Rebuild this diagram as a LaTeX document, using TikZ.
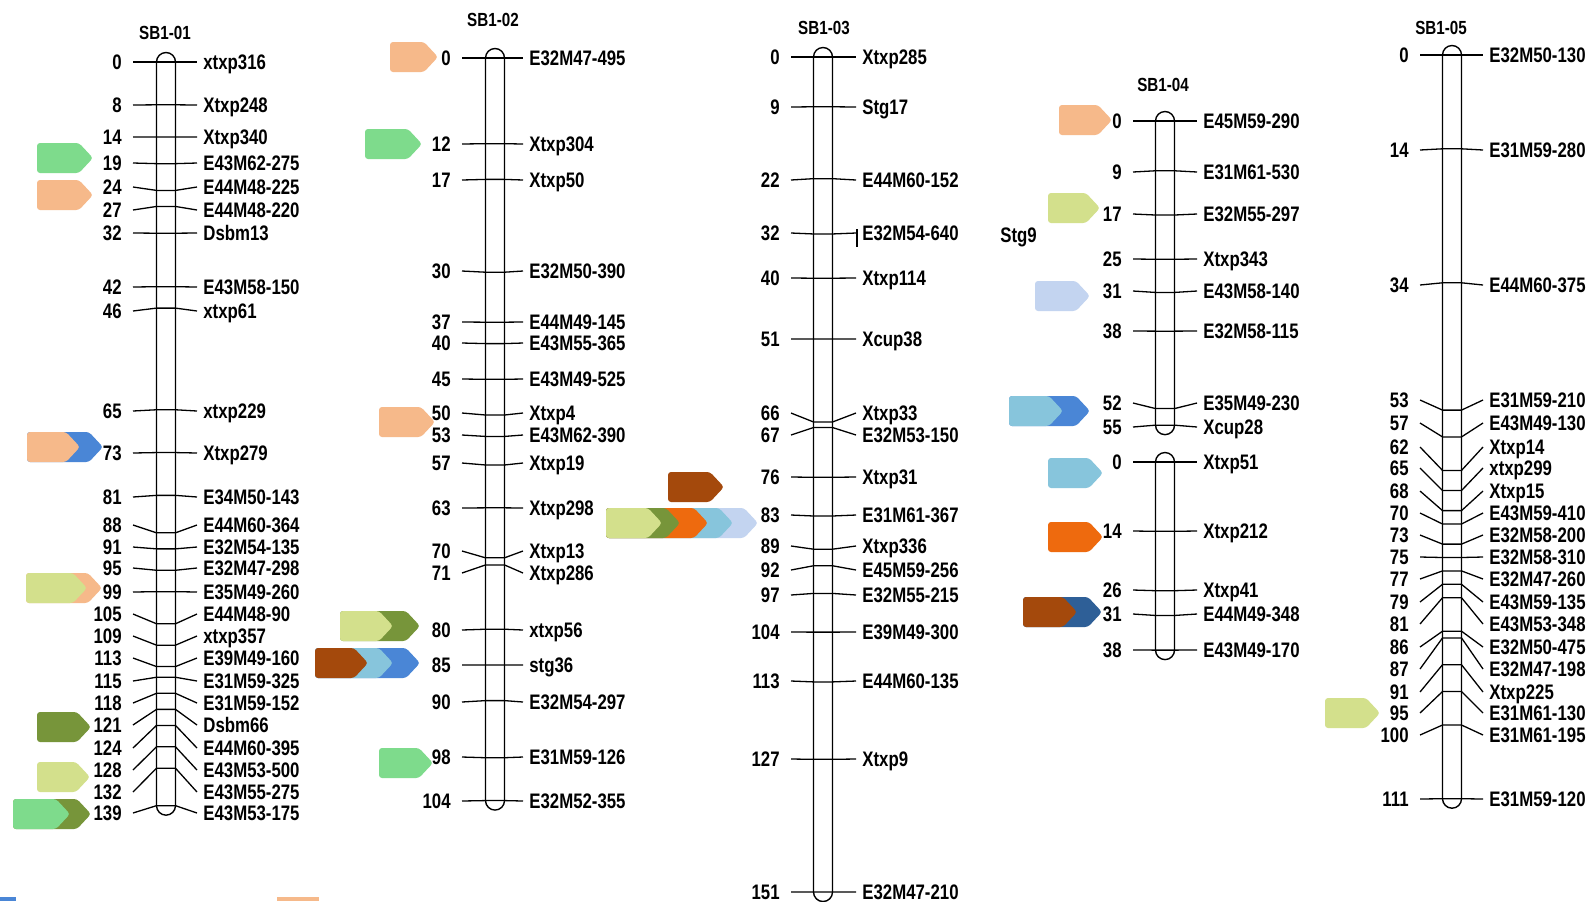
\documentclass[tikz,border=0pt]{standalone}
\usepackage{fontspec}
\setmainfont{Liberation Sans}[FakeStretch=0.8]
\definecolor{cgreen}{RGB}{126,219,140}
\definecolor{cpeach}{RGB}{246,185,138}
\definecolor{cblue}{RGB}{74,134,214}
\definecolor{cyg}{RGB}{211,224,140}
\definecolor{colive}{RGB}{119,149,58}
\definecolor{cbrown}{RGB}{164,73,12}
\definecolor{clblue}{RGB}{135,197,220}
\definecolor{clav}{RGB}{195,212,240}
\definecolor{corange}{RGB}{238,106,14}
\definecolor{cdblue}{RGB}{46,95,151}
\tikzset{
  bar/.style={draw=black,line width=0.7pt,rounded corners=4.75pt},
  tick/.style={draw=black,line width=0.65pt},
  num/.style={inner sep=0pt,font=\fontsize{10.5}{12}\selectfont\bfseries,text height=7.5pt,text depth=0pt,anchor=east},
  mk/.style={inner sep=0pt,font=\fontsize{10.5}{12}\selectfont\bfseries,text height=7.5pt,text depth=0pt,anchor=west},
  ttl/.style={inner sep=0pt,font=\fontsize{9.5}{11}\selectfont\bfseries,text height=6.8pt,text depth=0pt},
}
% #1 id, #2 cx, #3 y0, #4 scale, #5 cM end, #6 tick left x, #7 tick right x, #8 list
\newcommand\chromo[8]{%
  \draw[bar] ({#2-9.5},{#3-9.5}) rectangle ({#2+9.5},{#3+#5*#4+9.5});
  \foreach \c/\ly/\nm [count=\i] in {#8}{%
    \draw[tick] (#6,\ly) -- ({#2-9.5},{#3+\c*#4}) -- ({#2+9.5},{#3+\c*#4}) -- (#7,\ly);
    \node[num] (#1n\i) at ({#6-11},\ly) {\c};
    \node[mk] (#1m\i) at ({#7+6},\ly) {\nm};
  }%
}
\newcommand\tagar[4]{%
  \fill[#1,rounded corners=1.5pt] (#2,{#4-15}) -- ({#3-14},{#4-15}) -- (#3,#4) -- ({#3-14},{#4+15}) -- (#2,{#4+15}) -- cycle;}
\begin{document}
\begin{tikzpicture}[x=0.5pt,y=-0.5pt]
\useasboundingbox (0,0) rectangle (1593,901);
\fill[white] (0,0) rectangle (1593,901);
% ---------- tags ----------
% SB1-01
\tagar{cgreen}{37}{93}{158}
\tagar{cpeach}{37}{93}{195}
\tagar{cblue}{27}{103}{447}
\tagar{cpeach}{27}{80}{447}
\tagar{cpeach}{26}{102}{588}
\tagar{cyg}{26}{87}{588}
\tagar{colive}{37}{91}{727}
\tagar{cyg}{37}{90}{777}
\tagar{colive}{13}{91}{814}
\tagar{cgreen}{13}{70}{814}
% SB1-02
\tagar{cpeach}{390}{438}{57}
\tagar{cgreen}{365}{422}{144}
\tagar{cpeach}{379}{435}{422}
\tagar{colive}{340}{420}{626}
\tagar{cyg}{340}{393}{626}
\tagar{cblue}{315}{420}{663}
\tagar{clblue}{315}{393}{663}
\tagar{cbrown}{315}{368}{663}
\tagar{cgreen}{379}{433}{763}
% SB1-03
\tagar{cbrown}{668}{724}{487}
\tagar{clav}{606}{758}{523}
\tagar{clblue}{606}{733}{523}
\tagar{corange}{606}{708}{523}
\tagar{colive}{606}{680}{523}
\tagar{cyg}{606}{662}{523}
% SB1-04
\tagar{cpeach}{1059}{1112}{120}
\tagar{cyg}{1048}{1100}{208}
\tagar{clav}{1035}{1090}{296}
\tagar{cblue}{1009}{1090}{411}
\tagar{clblue}{1009}{1063}{411}
\tagar{clblue}{1048}{1103}{473}
\tagar{corange}{1048}{1103}{537}
\tagar{cdblue}{1023}{1102}{612}
\tagar{cbrown}{1023}{1077}{612}
% SB1-05
\tagar{cyg}{1325}{1380}{713}
% legend slivers at bottom edge
\fill[cblue] (0,897) rectangle (16,901);
\fill[cpeach] (277,897) rectangle (319,901);
% ---------- titles ----------
\node[ttl] (t1) at (165,33) {SB1-01};
\node[ttl] (t2) at (493,20) {SB1-02};
\node[ttl] (t3) at (824,28) {SB1-03};
\node[ttl] (t4) at (1163,85) {SB1-04};
\node[ttl] (t5) at (1441,28) {SB1-05};
\node[mk] (stg9) at (1000,235) {Stg9};
% ---------- chromosomes ----------
\chromo{a}{166}{62}{5.35}{139}{133}{197}{0/62/xtxp316, 8/105/Xtxp248, 14/137/Xtxp340, 19/163/E43M62-275, 24/187/E44M48-225, 27/210/E44M48-220, 32/233/Dsbm13, 42/287/E43M58-150, 46/311/xtxp61, 65/411/xtxp229, 73/453/Xtxp279, 81/497/E34M50-143, 88/525/E44M60-364, 91/547/E32M54-135, 95/568/E32M47-298, 99/592/E35M49-260, 105/614/E44M48-90, 109/636/xtxp357, 113/658/E39M49-160, 115/681/E31M59-325, 118/703/E31M59-152, 121/725/Dsbm66, 124/748/E44M60-395, 128/770/E43M53-500, 132/792/E43M55-275, 139/813/E43M53-175}
\chromo{b}{495}{58}{7.14}{104}{462}{523}{0/58/E32M47-495, 12/144/Xtxp304, 17/180/Xtxp50, 30/271/E32M50-390, 37/322/E44M49-145, 40/343/E43M55-365, 45/379/E43M49-525, 50/413/Xtxp4, 53/435/E43M62-390, 57/463/Xtxp19, 63/508/Xtxp298, 70/551/Xtxp13, 71/573/Xtxp286, 80/630/xtxp56, 85/665/stg36, 90/702/E32M54-297, 98/757/E31M59-126, 104/801/E32M52-355}
\chromo{c}{823}{57}{5.53}{151}{791}{856}{0/57/Xtxp285, 9/107/Stg17, 22/180/E44M60-152, 32/233/E32M54-640, 40/278/Xtxp114, 51/339/Xcup38, 66/413/Xtxp33, 67/435/E32M53-150, 76/477/Xtxp31, 83/515/E31M61-367, 89/546/Xtxp336, 92/570/E45M59-256, 97/595/E32M55-215, 104/632/E39M49-300, 113/681/E44M60-135, 127/759/Xtxp9, 151/892/E32M47-210}
\draw[tick] (857,229) -- (857,247);
\chromo{d}{1165}{121}{5.53}{55}{1133}{1197}{0/121/E45M59-290, 9/172/E31M61-530, 17/214/E32M55-297, 25/259/Xtxp343, 31/291/E43M58-140, 38/331/E32M58-115, 52/403/E35M49-230, 55/427/Xcup28}
\chromo{e}{1165}{462}{4.95}{38}{1133}{1197}{0/462/Xtxp51, 14/531/Xtxp212, 26/590/Xtxp41, 31/614/E44M49-348, 38/650/E43M49-170}
\chromo{f}{1452}{55}{6.70}{111}{1420}{1483}{0/55/E32M50-130, 14/150/E31M59-280, 34/285/E44M60-375, 53/400/E31M59-210, 57/423/E43M49-130, 62/447/Xtxp14, 65/468/xtxp299, 68/491/Xtxp15, 70/513/E43M59-410, 73/535/E32M58-200, 75/557/E32M58-310, 77/579/E32M47-260, 79/602/E43M59-135, 81/624/E43M53-348, 86/647/E32M50-475, 87/669/E32M47-198, 91/692/Xtxp225, 95/713/E31M61-130, 100/735/E31M61-195, 111/799/E31M59-120}
\end{tikzpicture}
\end{document}
